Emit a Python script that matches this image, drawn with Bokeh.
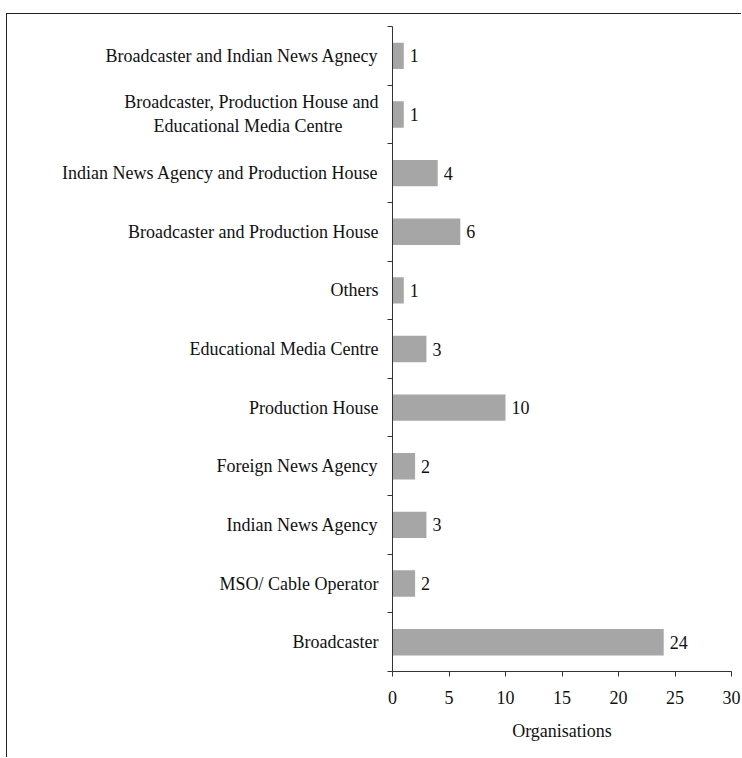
from bokeh.plotting import figure
from bokeh.models import FixedTicker, ColumnDataSource, Range1d
from bokeh.core.properties import value
from bokeh.embed import file_html
from bokeh.resources import INLINE

# Data (bottom to top)
categories = [
    "Broadcaster",
    "MSO/ Cable Operator",
    "Indian News Agency",
    "Foreign News Agency",
    "Production House",
    "Educational Media Centre",
    "Others",
    "Broadcaster and Production House",
    "Indian News Agency and Production House",
    "Broadcaster, Production House and\nEducational Media Centre" + "\u00a0" * 8,
    "Broadcaster and Indian News Agnecy",
]
counts = [24, 2, 3, 2, 10, 3, 1, 6, 4, 1, 1]
x_ticks = [0, 5, 10, 15, 20, 25, 30]
x_label = "Organisations"

FONT = "Liberation Serif"
n = len(categories)
pos = [i + 0.5 for i in range(n)]

src = ColumnDataSource(dict(y=pos, v=counts, t=[str(c) for c in counts]))

p = figure(width=735, height=744, output_backend="svg", toolbar_location=None,
           x_range=Range1d(0, 30), y_range=Range1d(0, n),
           min_border_left=385, min_border_right=11, min_border_top=12, min_border_bottom=87)
p.margin = (13, 0, 0, 6)
p.styles = {"border-top": "1px solid #222222", "border-left": "1px solid #222222"}

p.hbar(y="y", right="v", left=0, height=0.45, source=src, color="#a6a6a6", line_color=None)
p.text(x="v", y="y", text="t", source=src, x_offset=6, text_align="left",
       text_baseline="middle", text_font=value(FONT), text_font_size="18px", text_color="#111111")

p.xgrid.visible = False
p.ygrid.visible = False
p.outline_line_color = None
p.background_fill_color = "white"
p.border_fill_color = "white"

xa = p.xaxis[0]
xa.ticker = FixedTicker(ticks=x_ticks)
xa.axis_label = x_label
xa.axis_label_text_font = FONT
xa.axis_label_text_font_size = "18px"
xa.axis_label_text_font_style = "normal"
xa.axis_label_text_color = "#111111"
xa.axis_label_standoff = 14
xa.major_label_text_font = FONT
xa.major_label_text_font_size = "18px"
xa.major_label_text_color = "#111111"
xa.major_label_standoff = 14
xa.major_tick_in = 0
xa.major_tick_out = 5
xa.minor_tick_line_color = None
xa.axis_line_color = "#333333"
xa.major_tick_line_color = "#333333"

ya = p.yaxis[0]
ya.ticker = FixedTicker(ticks=pos, minor_ticks=list(range(n + 1)))
ya.major_label_overrides = {pos[i]: categories[i] for i in range(n)}
ya.major_label_text_font = FONT
ya.major_label_text_font_size = "18px"
ya.major_label_text_color = "#111111"
ya.major_tick_line_color = None
ya.major_tick_in = 0
ya.major_tick_out = 0
ya.major_label_standoff = 9
ya.minor_tick_in = 0
ya.minor_tick_out = 5
ya.minor_tick_line_color = "#333333"
ya.axis_line_color = "#333333"

open("out.html", "w").write(file_html(p, INLINE))
